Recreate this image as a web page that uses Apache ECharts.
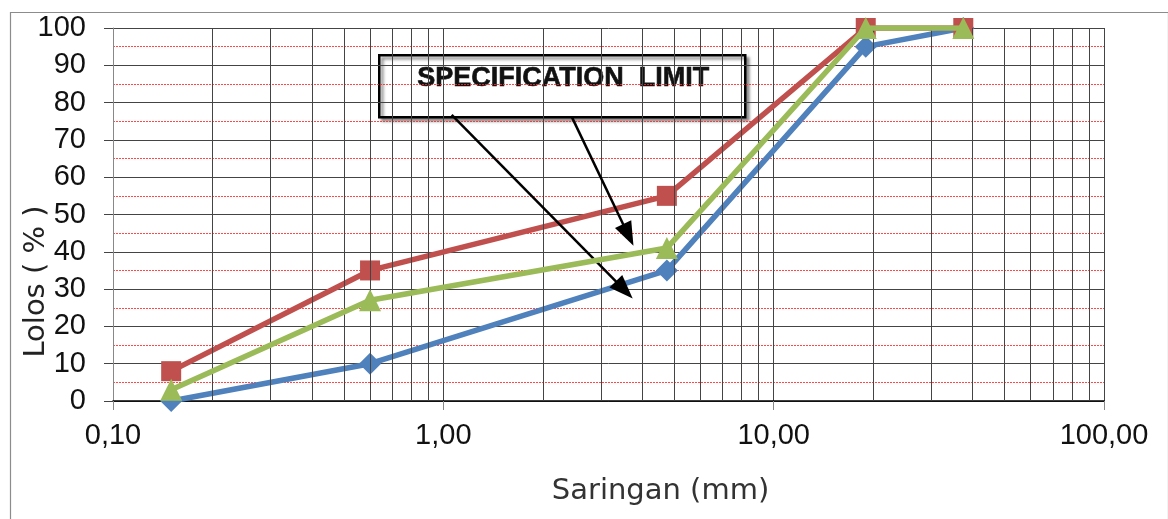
<!DOCTYPE html>
<html>
<head>
<meta charset="utf-8">
<title>Gradasi Agregat</title>
<script src="https://cdn.jsdelivr.net/npm/echarts@6/dist/echarts.min.js"></script>
<style>
  html, body { margin: 0; padding: 0; background: #fff; }
  #chart { width: 1168px; height: 519px; }
</style>
</head>
<body>
<div id="chart"></div>
<script>
// Sieve sizes (mm) and percent passing
const sieveSizes = [0.15, 0.6, 4.75, 19, 37.5];
const lowerLimit = [0, 10, 35, 95, 100];
const upperLimit = [8, 35, 55, 100, 100];
const gradation  = [3, 27, 41, 100, 100];

// Log-paper minor vertical rules
const minorGridX = [0.2, 0.3, 0.4, 0.5, 0.6, 0.7, 0.8, 0.9,
                    2, 3, 4, 5, 6, 7, 8, 9,
                    20, 30, 40, 50, 60, 70, 80, 90];

// Callout arrows: [start, end] in data coordinates
const calloutArrows = [
  [[1.06, 76.7], [3.53, 29.8]],
  [[2.45, 76.1], [3.63, 44.5]]
];

const LABEL_FONT = '"Liberation Sans", Arial, sans-serif';
const TITLE_FONT = '"DejaVu Sans", sans-serif';

const pair = (xs, ys) => xs.map((x, i) => [x, ys[i]]);

const chart = echarts.init(document.getElementById('chart'), null, { renderer: 'canvas' });

chart.setOption({
  animation: false,
  backgroundColor: '#ffffff',
  grid: { left: 113, right: 64, top: 28, bottom: 118, outerBoundsMode: 'none', containLabel: false },
  xAxis: {
    type: 'log',
    logBase: 10,
    min: 0.1,
    max: 100,
    name: 'Saringan (mm)',
    nameLocation: 'middle',
    nameGap: 76,
    nameMoveOverlap: false,
    nameTextStyle: {
      fontFamily: TITLE_FONT, fontSize: 29, color: '#333',
      padding: [0, 0, 0, 104]
    },
    axisLine: { show: true, onZero: false, lineStyle: { color: '#000', width: 1.5 } },
    axisTick: { show: true, inside: false, length: 9, lineStyle: { color: '#888' } },
    axisLabel: {
      margin: 20,
      fontFamily: LABEL_FONT, fontSize: 29, color: '#111',
      formatter: v => Number(v).toFixed(2).replace('.', ',')
    },
    splitLine: { show: true, lineStyle: { color: '#444', width: 1 } }
  },
  yAxis: {
    type: 'value',
    min: 0,
    max: 100,
    interval: 10,
    name: 'Lolos ( % )',
    nameLocation: 'middle',
    nameGap: 62,
    nameRotate: 90,
    nameMoveOverlap: false,
    nameTextStyle: {
      fontFamily: TITLE_FONT, fontSize: 29, color: '#222',
      padding: [0, 134, 0, 0]
    },
    axisLine: { show: true, lineStyle: { color: '#888', width: 1 } },
    axisTick: { show: true, inside: false, length: 9, lineStyle: { color: '#444' } },
    axisLabel: {
      margin: 27,
      fontFamily: LABEL_FONT, fontSize: 29, color: '#111'
    },
    splitLine: { show: true, lineStyle: { color: '#444', width: 1 } },
    minorTick: { show: false, splitNumber: 2 },
    minorSplitLine: { show: true, lineStyle: { color: 'rgba(255,40,40,0.85)', width: 1, type: [2, 1] } }
  },
  graphic: [
    {
      type: 'rect',
      left: 8, top: 10, z: -10,
      shape: { width: 1158, height: 530 },
      style: { fill: 'none', stroke: '#8c8c8c', lineWidth: 1.2 },
      silent: true
    },
    {
      type: 'group',
      left: 378, top: 54, z: 50,
      children: [
        {
          type: 'rect',
          shape: { x: 0, y: 0, width: 366, height: 62 },
          style: {
            fill: '#fff', stroke: '#000', lineWidth: 2.5,
            shadowBlur: 3, shadowOffsetX: 3, shadowOffsetY: 3,
            shadowColor: 'rgba(0,0,0,0.45)'
          }
        },
        {
          type: 'text',
          x: 184, y: 23,
          style: {
            text: 'SPECIFICATION  LIMIT',
            font: 'bold 27px "Liberation Sans", Arial, sans-serif',
            fill: '#111',
            stroke: '#111',
            lineWidth: 0.6,
            align: 'center',
            verticalAlign: 'middle'
          }
        }
      ]
    }
  ],
  series: [
    {
      name: 'grid-minor',
      type: 'line',
      data: [],
      silent: true,
      z: 1,
      markLine: {
        silent: true,
        symbol: 'none',
        label: { show: false },
        animation: false,
        lineStyle: { color: '#444', width: 1, type: 'solid' },
        data: minorGridX.map(v => ({ xAxis: v }))
      }
    },
    {
      name: 'Batas Bawah',
      type: 'line',
      z: 3,
      data: pair(sieveSizes, lowerLimit),
      symbol: 'diamond',
      symbolSize: 22,
      lineStyle: { color: '#4F81BD', width: 5.5 },
      itemStyle: { color: '#4F81BD' }
    },
    {
      name: 'Batas Atas',
      type: 'line',
      z: 4,
      data: pair(sieveSizes, upperLimit),
      symbol: 'rect',
      symbolSize: 20,
      lineStyle: { color: '#C0504D', width: 5.5 },
      itemStyle: { color: '#C0504D' }
    },
    {
      name: 'Gradasi',
      type: 'line',
      z: 5,
      data: pair(sieveSizes, gradation),
      symbol: 'triangle',
      symbolSize: 22,
      lineStyle: { color: '#9BBB59', width: 5.5 },
      itemStyle: { color: '#9BBB59' }
    },
    {
      name: 'callout',
      type: 'line',
      data: [],
      silent: true,
      z: 6,
      markLine: {
        silent: true,
        animation: false,
        symbol: ['none', 'triangle'],
        symbolSize: [18, 24],
        label: { show: false },
        lineStyle: { color: '#000', width: 2.5, type: 'solid' },
        data: calloutArrows.map(([a, b]) => [{ coord: a }, { coord: b }])
      }
    }
  ]
});
</script>
</body>
</html>
